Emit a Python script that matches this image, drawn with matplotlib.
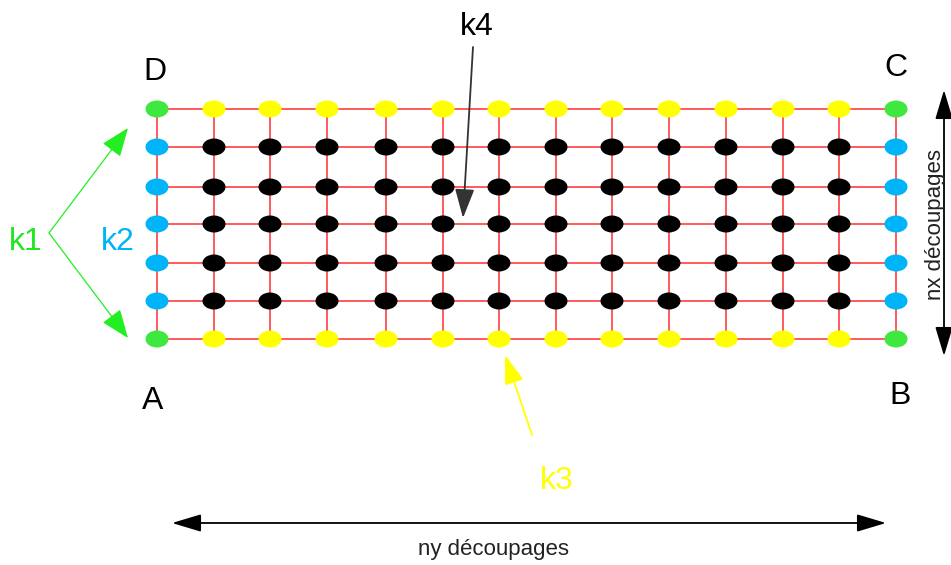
import matplotlib
matplotlib.use("Agg")
import matplotlib.pyplot as plt
from matplotlib.patches import Ellipse

# --- grid of nodes (pixel positions) ---
col_x = [157, 214, 270, 327, 386, 443, 499, 556, 612, 669, 726, 783, 839, 896]
row_y = [109, 147, 187, 224, 263, 301, 339]

# node colours
GREEN = "#3fe83f"
YELLOW = "#ffff00"
BLUE = "#00b4f8"
BLACK = "#000000"
GRID_RED = "#ff5a5a"

# corner labels
corner_labels = ["D", "C", "A", "B"]
corner_pos = [(155, 72), (896, 68), (153, 401), (900, 396)]

fig = plt.figure(figsize=(9.51, 5.65), dpi=100)
ax = fig.add_axes([0, 0, 1, 1])
ax.set_xlim(0, 951)
ax.set_ylim(565, 0)
ax.axis("off")
plt.rcParams['font.family'] = ['Liberation Sans', 'DejaVu Sans']

# --- red grid lines ---
for x in col_x:
    ax.plot([x, x], [row_y[0], row_y[-1]], color=GRID_RED, lw=1.4, zorder=1)
for y in row_y:
    ax.plot([col_x[0], col_x[-1]], [y, y], color=GRID_RED, lw=1.4, zorder=1)

# --- nodes ---
n_c, n_r = len(col_x), len(row_y)
for i, x in enumerate(col_x):
    for j, y in enumerate(row_y):
        edge_c = i in (0, n_c - 1)
        edge_r = j in (0, n_r - 1)
        if edge_c and edge_r:
            c = GREEN
        elif edge_r:
            c = YELLOW
        elif edge_c:
            c = BLUE
        else:
            c = BLACK
        ax.add_patch(Ellipse((x, y), 23, 17, facecolor=c, edgecolor="none", zorder=2))

# --- corner letters ---
for lab, (x, y) in zip(corner_labels, corner_pos):
    ax.text(x, y, lab, fontsize=23, ha="center", va="center", color="black")

# --- k labels ---
ax.text(26, 242, "k1", fontsize=23, ha="center", va="center", color="#22e622")
ax.text(118, 242, "k2", fontsize=23, ha="center", va="center", color=BLUE)
ax.text(557, 481, "k3", fontsize=23, ha="center", va="center", color=YELLOW)
ax.text(477, 27, "k4", fontsize=23, ha="center", va="center", color="black")


def arrow(p_from, p_to, color, lw, style="-|>", ms=20, hl=0.9, hw=0.3, z=3):
    ax.annotate("", xy=p_to, xytext=p_from,
                arrowprops=dict(arrowstyle=f"{style},head_length={hl},head_width={hw}",
                                color=color, lw=lw, mutation_scale=ms,
                                shrinkA=0, shrinkB=0),
                zorder=z)


# k1 arrows
arrow((49, 233), (128, 128), "#22ee22", 0.9, hw=0.35)
arrow((49, 233), (128, 338), "#22ee22", 0.9, hw=0.35)
# k4 arrow
arrow((473, 47), (463, 218), "#333333", 1.3, z=4)
# k3 arrow
arrow((532, 435), (505, 355), YELLOW, 1.3)

# dimension arrows
arrow((172, 523), (886, 523), "black", 1.3, style="<|-|>", hw=0.27)
ax.text(494, 550, "ny découpages", fontsize=16, ha="center", va="center", color="#222222")
arrow((944, 90), (944, 356), "black", 1.3, style="<|-|>", hw=0.27)
ax.text(936, 225, "nx découpages", fontsize=16, ha="center", va="center",
        rotation=90, color="#222222")

fig.savefig("out.png", dpi=100, facecolor="white")
